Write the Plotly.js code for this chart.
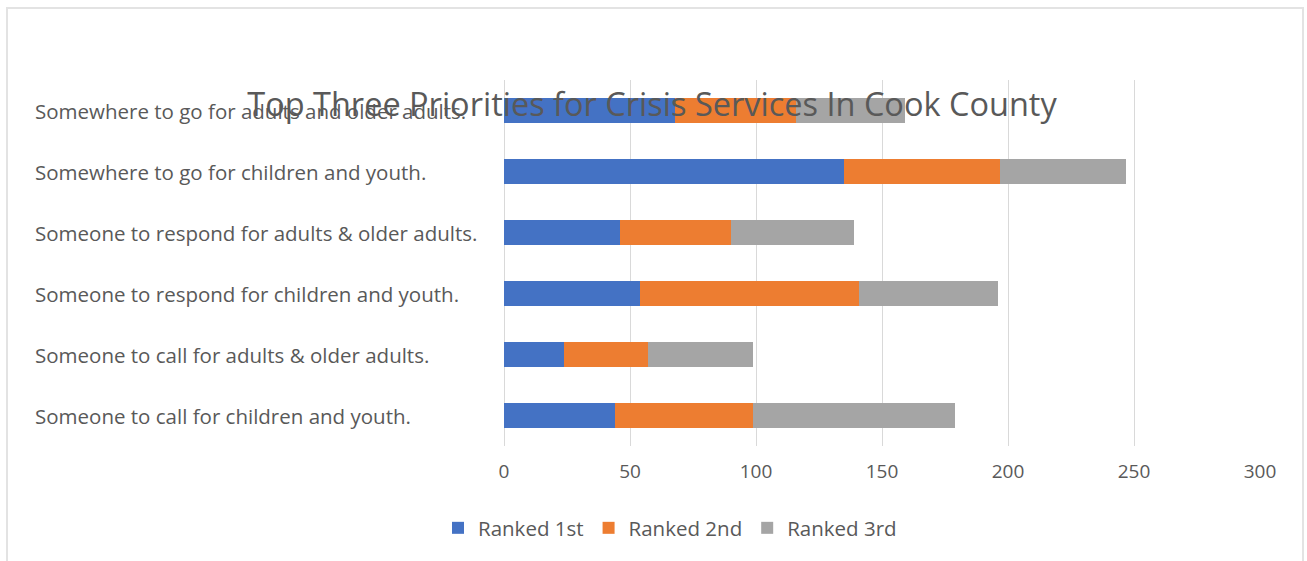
<!DOCTYPE html>
<html>
<head>
<meta charset="utf-8">
<script src="https://cdn.plot.ly/plotly-3.0.1.min.js"></script>
<style>
html, body { margin:0; padding:0; background:#ffffff; width:1307px; height:561px; overflow:hidden; }
#frame { position:absolute; left:6px; top:7px; width:1298px; height:600px; border:2px solid #e3e3e3; box-sizing:border-box; }
#chart { position:absolute; left:0; top:0; width:1307px; height:561px; }
</style>
</head>
<body>
<div id="frame"></div>
<div id="chart"></div>
<script>
// Categories listed bottom -> top
const categories = [
  "Someone to call for children and youth.",
  "Someone to call for adults & older adults.",
  "Someone to respond for children and youth.",
  "Someone to respond for adults & older adults.",
  "Somewhere to go for children and youth.",
  "Somewhere to go for adults and older adults."
];
const ranked1st = [44, 24, 54, 46, 135, 68];
const ranked2nd = [55, 33, 87, 44, 62, 48];
const ranked3rd = [80, 42, 55, 49, 50, 43];
const seriesNames = ["Ranked 1st", "Ranked 2nd", "Ranked 3rd"];
const tickVals = [0, 50, 100, 150, 200, 250, 300];

const colors = ["#4472C4", "#ED7D31", "#A5A5A5"];
const values = [ranked1st, ranked2nd, ranked3rd];
const FONT = "'Open Sans', sans-serif";
const TXT = "#595959";

const traces = values.map((v, i) => ({
  type: "bar",
  orientation: "h",
  name: seriesNames[i],
  x: v,
  y: categories,
  marker: { color: colors[i], line: { width: 0 } },
  hoverinfo: "x+name"
}));

const annotations = categories.map(c => ({
  text: c,
  xref: "paper", yref: "y",
  x: (33 - 504) / 756, y: c,
  xanchor: "left", yanchor: "middle",
  showarrow: false,
  font: { family: FONT, size: 20.5, color: TXT }
}));

const layout = {
  width: 1307, height: 561,
  paper_bgcolor: "rgba(0,0,0,0)",
  plot_bgcolor: "rgba(0,0,0,0)",
  margin: { l: 504, r: 47, t: 80, b: 115 },
  barmode: "stack",
  bargap: 0.6,
  showlegend: true,
  title: {
    text: "Top Three Priorities for Crisis Services In Cook County",
    font: { family: FONT, size: 32.5, color: TXT },
    x: 652 / 1307, xanchor: "center", xref: "container",
    y: 1 - 105 / 561, yanchor: "middle", yref: "container"
  },
  xaxis: {
    range: [0, 300],
    tickvals: tickVals,
    ticktext: tickVals.map(String),
    showgrid: true, gridcolor: "#d9d9d9", gridwidth: 1,
    zeroline: true, zerolinecolor: "#d9d9d9", zerolinewidth: 1,
    showline: false,
    ticks: "",
    ticklabelstandoff: 12,
    tickfont: { family: FONT, size: 19, color: TXT },
    fixedrange: true
  },
  yaxis: {
    type: "category",
    categoryorder: "array",
    categoryarray: categories,
    showticklabels: false,
    showgrid: false, zeroline: false, showline: false,
    ticks: "",
    fixedrange: true
  },
  legend: {
    orientation: "h",
    x: (670 - 504) / 756, xanchor: "center",
    y: (446 - 528) / 366, yanchor: "middle",
    font: { family: FONT, size: 20.5, color: TXT },
    traceorder: "normal",
    itemclick: false, itemdoubleclick: false
  },
  annotations: annotations
};

Plotly.newPlot("chart", traces, layout, { displayModeBar: false, staticPlot: true });
</script>
</body>
</html>
